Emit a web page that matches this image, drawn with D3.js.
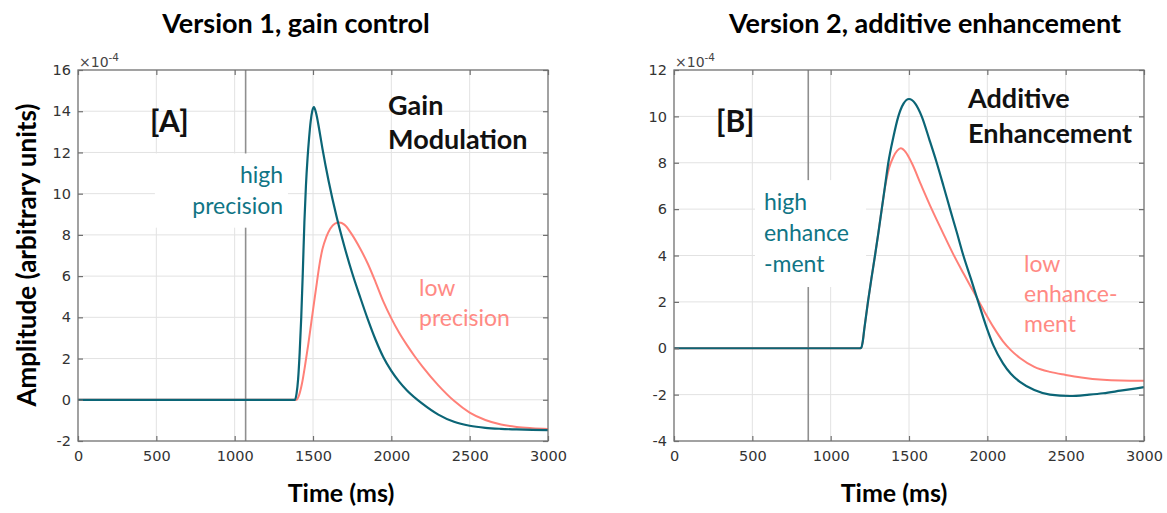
<!DOCTYPE html>
<html>
<head>
<meta charset="utf-8">
<script src="https://cdnjs.cloudflare.com/ajax/libs/d3/7.8.5/d3.min.js"></script>
<style>
body { margin: 0; background: #fff; }
svg { display: block; }
</style>
</head>
<body>
<div id="chart"></div>
<script>
// time axis, shared by both panels
var timeTicks = [0, 500, 1000, 1500, 2000, 2500, 3000];

// panel A, gain control (values x 1e-4)
var gainTicks = [-2, 0, 2, 4, 6, 8, 10, 12, 14, 16];
var gainHighTime = [0, 500, 1000, 1300, 1385, 1395, 1405, 1415, 1425, 1435, 1445, 1455, 1465, 1475, 1485, 1495, 1506, 1520, 1540, 1560, 1600, 1650, 1700, 1750, 1800, 1850, 1900, 1950, 2000, 2050, 2100, 2200, 2300, 2400, 2500, 2600, 2700, 2800, 2900, 3000];
var gainHighVal = [0, 0, 0, 0, 0, 0.3, 1.0, 2.3, 4.0, 6.2, 8.6, 10.4, 11.7, 12.7, 13.5, 14.0, 14.2, 13.9, 13.1, 12.2, 10.6, 8.9, 7.45, 6.15, 5.0, 3.9, 2.9, 2.05, 1.4, 0.88, 0.45, -0.2, -0.72, -1.07, -1.26, -1.36, -1.41, -1.44, -1.46, -1.47];
var gainLowTime = [0, 500, 1000, 1300, 1395, 1410, 1430, 1450, 1470, 1490, 1510, 1525, 1540, 1560, 1585, 1610, 1640, 1668, 1700, 1750, 1800, 1850, 1900, 1950, 2000, 2050, 2100, 2150, 2200, 2300, 2400, 2500, 2600, 2700, 2800, 2900, 3000];
var gainLowVal = [0, 0, 0, 0, 0, 0.2, 0.8, 1.7, 2.7, 3.8, 4.9, 5.7, 6.5, 7.3, 7.9, 8.3, 8.55, 8.6, 8.5, 8.0, 7.35, 6.6, 5.7, 4.75, 3.95, 3.25, 2.65, 2.1, 1.6, 0.7, -0.05, -0.62, -0.98, -1.2, -1.32, -1.38, -1.42];

// panel B, additive enhancement (values x 1e-4)
var addTicks = [-4, -2, 0, 2, 4, 6, 8, 10, 12];
var addHighTime = [0, 500, 1000, 1185, 1195, 1205, 1215, 1238, 1260, 1283, 1305, 1326, 1347, 1368, 1400, 1432, 1465, 1500, 1540, 1581, 1630, 1677, 1720, 1762, 1805, 1847, 1895, 1942, 1990, 2040, 2100, 2150, 2208, 2300, 2400, 2528, 2650, 2739, 2850, 3000];
var addHighVal = [0, 0, 0, 0, 0.02, 0.3, 0.85, 2.0, 3.0, 4.0, 5.0, 6.0, 7.0, 8.0, 9.1, 10.0, 10.55, 10.75, 10.55, 10.0, 9.0, 8.0, 7.0, 6.0, 5.0, 4.0, 3.0, 2.0, 1.0, 0.1, -0.65, -1.1, -1.45, -1.8, -2.0, -2.06, -2.0, -1.94, -1.83, -1.68];
var addLowTime = [0, 500, 1000, 1185, 1195, 1205, 1215, 1238, 1260, 1283, 1305, 1326, 1347, 1372, 1400, 1425, 1447, 1480, 1517, 1580, 1645, 1715, 1783, 1850, 1915, 1980, 2040, 2100, 2150, 2208, 2300, 2400, 2500, 2600, 2739, 2850, 3000];
var addLowVal = [0, 0, 0, 0, 0.02, 0.3, 0.85, 2.0, 3.0, 4.0, 5.0, 6.0, 6.95, 7.75, 8.25, 8.52, 8.62, 8.45, 8.0, 7.0, 6.0, 5.0, 4.05, 3.2, 2.4, 1.6, 0.9, 0.3, -0.08, -0.42, -0.8, -1.02, -1.15, -1.26, -1.36, -1.39, -1.4];

var teal = '#0b6576';
var tealText = '#107585';
var pink = '#ff8078';
var pinkText = '#ff8a84';
var boldFont = 'Lato, "Open Sans", sans-serif';
var tickFont = '"DejaVu Sans", sans-serif';

var svg = d3.select('#chart').append('svg')
    .attr('width', 1167)
    .attr('height', 513);

function zip(t, v) {
    return t.map(function (d, i) { return { t: d, v: v[i] }; });
}

function plain(d) {
    return String(d);
}

function drawPanel(p) {
    var x = d3.scaleLinear().domain([0, 3000]).range([p.left, p.right]);
    var y = d3.scaleLinear().domain(p.yDomain).range([p.bottom, p.top]);
    var g = svg.append('g');

    // grid
    g.selectAll('.vgrid').data(timeTicks.slice(1, -1)).enter().append('line')
        .attr('x1', function (d) { return x(d); }).attr('x2', function (d) { return x(d); })
        .attr('y1', p.top).attr('y2', p.bottom)
        .attr('stroke', '#e2e2e2').attr('stroke-width', 1);
    g.selectAll('.hgrid').data(p.yTicks.slice(1, -1)).enter().append('line')
        .attr('y1', function (d) { return y(d); }).attr('y2', function (d) { return y(d); })
        .attr('x1', p.left).attr('x2', p.right)
        .attr('stroke', '#e2e2e2').attr('stroke-width', 1);

    // stray marker line
    g.append('line')
        .attr('x1', x(p.marker)).attr('x2', x(p.marker))
        .attr('y1', p.top).attr('y2', p.bottom)
        .attr('stroke', '#8f8f8f').attr('stroke-width', 1.6);

    // white text background
    g.append('rect')
        .attr('x', x(p.box[0])).attr('y', y(p.box[2]))
        .attr('width', x(p.box[1]) - x(p.box[0]))
        .attr('height', y(p.box[3]) - y(p.box[2]))
        .attr('fill', '#fff');

    var line = d3.line()
        .curve(d3.curveMonotoneX)
        .x(function (d) { return x(d.t); })
        .y(function (d) { return y(d.v); });

    g.append('path').datum(p.low)
        .attr('fill', 'none').attr('stroke', pink).attr('stroke-width', 2)
        .attr('d', line);
    g.append('path').datum(p.high)
        .attr('fill', 'none').attr('stroke', teal).attr('stroke-width', 2.2)
        .attr('d', line);

    // axes box with inward ticks on all sides
    var axisColor = '#707070';
    var styleAxis = function (sel) {
        sel.select('.domain').remove();
        sel.selectAll('.tick line').attr('stroke', axisColor).attr('stroke-width', 1.2);
        sel.selectAll('.tick text').attr('fill', '#333').style('font-family', tickFont).style('font-size', '14.5px');
    };
    g.append('g').attr('transform', 'translate(0,' + p.bottom + ')')
        .call(d3.axisBottom(x).tickValues(timeTicks).tickSize(-5).tickPadding(10).tickFormat(plain))
        .call(styleAxis);
    g.append('g').attr('transform', 'translate(0,' + p.top + ')')
        .call(d3.axisTop(x).tickValues(timeTicks).tickSize(-5).tickFormat(''))
        .call(styleAxis);
    g.append('g').attr('transform', 'translate(' + p.left + ',0)')
        .call(d3.axisLeft(y).tickValues(p.yTicks).tickSize(-5).tickPadding(7).tickFormat(plain))
        .call(styleAxis);
    g.append('g').attr('transform', 'translate(' + p.right + ',0)')
        .call(d3.axisRight(y).tickValues(p.yTicks).tickSize(-5).tickFormat(''))
        .call(styleAxis);
    g.append('rect')
        .attr('x', p.left).attr('y', p.top)
        .attr('width', p.right - p.left).attr('height', p.bottom - p.top)
        .attr('fill', 'none').attr('stroke', axisColor).attr('stroke-width', 1.3);

    // exponent label
    var ex = g.append('text')
        .attr('x', p.left + 1).attr('y', p.top - 3)
        .attr('fill', '#444').style('font-family', tickFont).style('font-size', '14px');
    ex.append('tspan').text('\u00d710');
    ex.append('tspan').attr('dy', -6).style('font-size', '10.5px').text('-4');

    // title and x label
    svg.append('text')
        .attr('x', p.titleX).attr('y', 33)
        .attr('text-anchor', 'middle')
        .style('font-family', boldFont).style('font-weight', 'bold').style('font-size', '27px')
        .text(p.title);
    svg.append('text')
        .attr('x', p.xlabelX).attr('y', 502)
        .attr('text-anchor', 'middle')
        .style('font-family', boldFont).style('font-weight', 'bold').style('font-size', '25px')
        .text('Time (ms)');

    // annotations
    p.notes.forEach(function (n) {
        var t = g.append('text')
            .attr('x', x(n.t)).attr('y', y(n.v))
            .attr('text-anchor', n.anchor || 'start')
            .attr('fill', n.color)
            .style('font-family', boldFont)
            .style('font-weight', n.bold ? 'bold' : 'normal')
            .style('font-size', n.size + 'px');
        n.lines.forEach(function (s, i) {
            t.append('tspan').attr('x', x(n.t)).attr('dy', i === 0 ? 0 : n.gap).text(s);
        });
    });
}

drawPanel({
    left: 78, right: 548, top: 70, bottom: 441,
    yDomain: [-2, 16], yTicks: gainTicks,
    high: zip(gainHighTime, gainHighVal),
    low: zip(gainLowTime, gainLowVal),
    marker: 1070,
    box: [491, 1340, 11.95, 8.35],
    title: 'Version 1, gain control', titleX: 296, xlabelX: 341,
    notes: [
        { t: 460, v: 13.0, lines: ['[A]'], color: '#111', bold: true, size: 30 },
        { t: 1979, v: 13.82, lines: ['Gain', 'Modulation'], gap: 34, color: '#111', bold: true, size: 27 },
        { t: 1309, v: 10.52, lines: ['high', 'precision'], gap: 31, color: tealText, size: 23, anchor: 'end' },
        { t: 2177, v: 5.04, lines: ['low', 'precision'], gap: 30, color: pinkText, size: 23 }
    ]
});

drawPanel({
    left: 674, right: 1144, top: 70, bottom: 441,
    yDomain: [-4, 12], yTicks: addTicks,
    high: zip(addHighTime, addHighVal),
    low: zip(addLowTime, addLowVal),
    marker: 857,
    box: [517, 1226, 7.25, 2.64],
    title: 'Version 2, additive enhancement', titleX: 925, xlabelX: 894,
    notes: [
        { t: 268, v: 9.32, lines: ['[B]'], color: '#111', bold: true, size: 30 },
        { t: 1877, v: 10.36, lines: ['Additive', 'Enhancement'], gap: 35, color: '#111', bold: true, size: 27 },
        { t: 574, v: 5.96, lines: ['high', 'enhance', '-ment'], gap: 31, color: tealText, size: 23 },
        { t: 2234, v: 3.30, lines: ['low', 'enhance-', 'ment'], gap: 30, color: pinkText, size: 23 }
    ]
});

// shared y label
svg.append('text')
    .attr('transform', 'translate(36,255) rotate(-90)')
    .attr('text-anchor', 'middle')
    .style('font-family', boldFont).style('font-weight', 'bold').style('font-size', '26px')
    .text('Amplitude (arbitrary units)');
</script>
</body>
</html>
